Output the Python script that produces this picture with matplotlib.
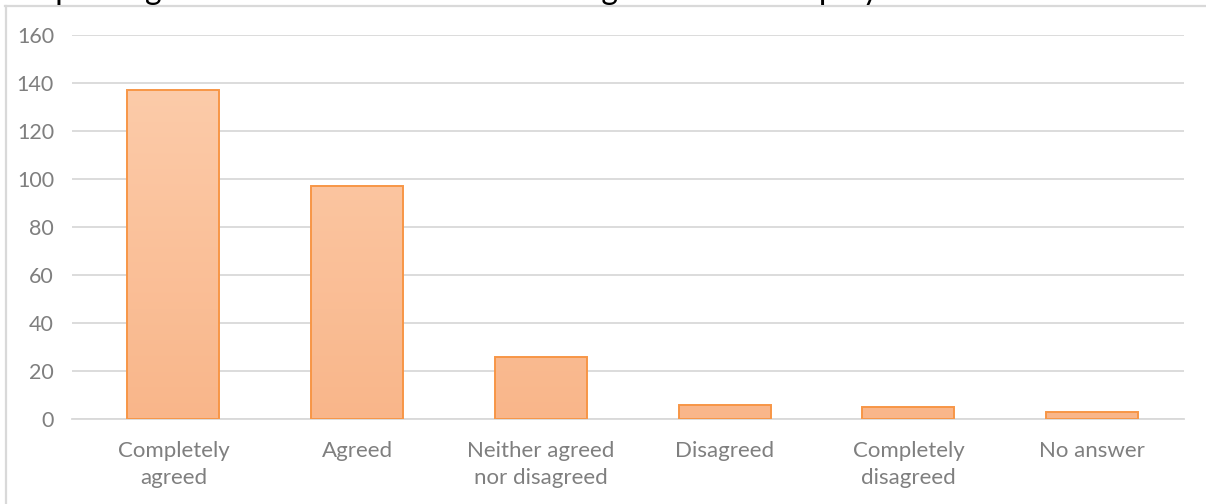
import numpy as np
import matplotlib.pyplot as plt
from matplotlib.lines import Line2D
from matplotlib.colors import LinearSegmentedColormap

categories = ["Completely\nagreed", "Agreed", "Neither agreed\nnor disagreed",
              "Disagreed", "Completely\ndisagreed", "No answer"]
counts = [137, 97, 26, 6, 5, 3]
yticks = [0, 20, 40, 60, 80, 100, 120, 140, 160]
title = "Improving communication between management and employees"

plt.rcParams['font.family'] = ['Lato', 'DejaVu Sans']

W, H = 1206, 504
fig = plt.figure(figsize=(W / 100, H / 100), dpi=100)
ax = fig.add_axes([72 / W, 1 - 419 / H, (1184 - 72) / W, (419 - 35) / H])

x = np.arange(len(categories))
bars = ax.bar(x, counts, width=0.5, color='none', edgecolor='#F79646',
              linewidth=1.4, zorder=3)

# vertical gradient fill inside each bar
grad = LinearSegmentedColormap.from_list('peach', ['#F9B68A', '#FCCBA9'])
for b in bars:
    x0 = b.get_x()
    w = b.get_width()
    img = ax.imshow(np.linspace(0, 1, 256).reshape(-1, 1), cmap=grad,
                    origin='lower', aspect='auto',
                    extent=[x0, x0 + w, 0, max(counts)], zorder=2)
    img.set_clip_path(b)

ax.set_xlim(-0.552, 5.5)
ax.set_ylim(0, 160)
ax.set_yticks(yticks)
ax.set_xticks(x)
ax.set_xticklabels(categories, fontsize=16, color='#7F7F7F', linespacing=1.4)
ax.tick_params(axis='y', labelsize=15.5, labelcolor='#7F7F7F', length=0, pad=13)
ax.tick_params(axis='x', length=0, pad=16)
ax.grid(axis='y', color='#D9D9D9', linewidth=1.3, zorder=0)
ax.set_axisbelow(True)
for s in ['top', 'right', 'left']:
    ax.spines[s].set_visible(False)
ax.spines['bottom'].set_color('#D9D9D9')
ax.spines['bottom'].set_linewidth(1.3)

# outer chart frame, running off the right and bottom edges
fig.add_artist(Line2D([5.5 / W, 5.5 / W], [1 - 6 / H, 0], color='#D9D9D9',
                      linewidth=1.6, transform=fig.transFigure))
fig.add_artist(Line2D([5 / W, 1], [1 - 6 / H, 1 - 6 / H], color='#D9D9D9',
                      linewidth=1.6, transform=fig.transFigure))

# chart title sits above the frame, mostly beyond the top edge
fig.text(20 / W, 1 + 1 / H, title, fontsize=23, color='black',
         va='baseline', ha='left')

fig.savefig('out.png', dpi=100)
